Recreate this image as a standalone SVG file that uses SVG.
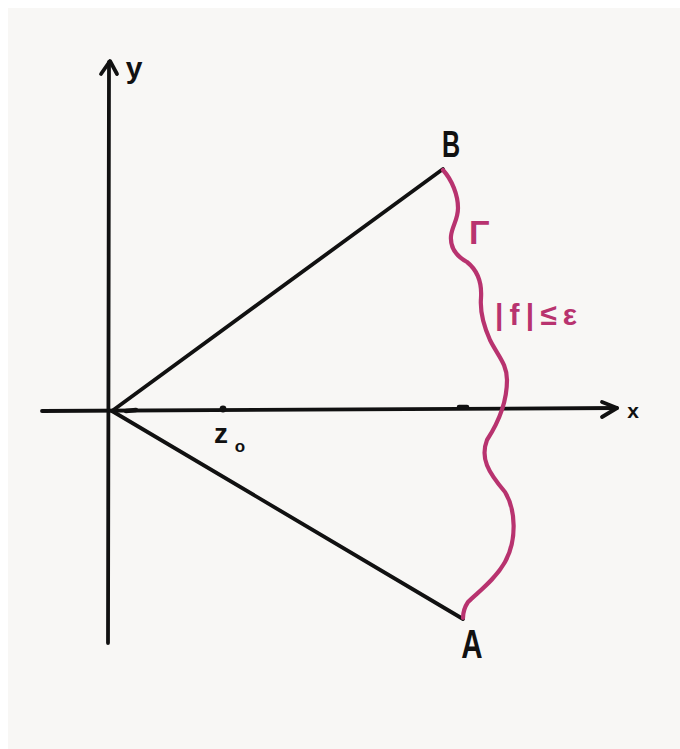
<svg xmlns="http://www.w3.org/2000/svg" width="680" height="749" viewBox="0 0 680 749">
<style>
.ink{fill:none;stroke:#111;stroke-width:3.8;stroke-linecap:round;stroke-linejoin:round}
.mag{fill:none;stroke:#b8336f;stroke-width:4.2;stroke-linecap:round;stroke-linejoin:round}
.lbl{font-family:"Liberation Sans","DejaVu Sans",sans-serif;fill:#111;font-weight:bold}
.mlbl{font-family:"Liberation Sans","DejaVu Sans",sans-serif;fill:#b8336f;font-weight:bold}
</style>
<rect x="0" y="0" width="680" height="749" fill="#ffffff"/>
<rect x="8" y="8" width="672" height="741" fill="#f8f7f5"/>
<g id="axes">
  <line class="ink" x1="42" y1="411" x2="617" y2="408"/>
  <path class="ink" d="M602,402 L617,408 L602,417"/>
  <line class="ink" x1="109" y1="62" x2="108" y2="643"/>
  <path class="ink" d="M101,74 L110,61 L117,74"/>
  <line x1="126" y1="411" x2="136" y2="410" stroke="#111" stroke-width="4.5" stroke-linecap="round"/>
  <line x1="459" y1="407" x2="467" y2="407" stroke="#111" stroke-width="4.5" stroke-linecap="round"/>
  <circle cx="223" cy="409" r="3.4" fill="#111"/>
</g>
<g id="connectors">
  <line class="ink" x1="112" y1="411" x2="443" y2="169"/>
  <line class="ink" x1="112" y1="411" x2="463" y2="619"/>
  <path class="mag" d="M443,170 C452,180 458,195 458,208 C458,220 452,226 451,236 C450,248 456,256 467,262 C477,270 482,283 481,298 C480,310 482,322 490,340 C498,356 507,364 507,380 C507,398 500,420 487,440 C480,458 488,472 505,492 C516,510 517,540 505,562 C495,580 478,592 468,602 C464,608 463,613 463,618"/>
</g>
<g id="label-y"><text class="lbl" x="134" y="78" font-size="30" text-anchor="middle">y</text></g>
<g id="label-x"><text class="lbl" x="633" y="418" font-size="21" text-anchor="middle">x</text></g>
<g id="node-B"><text class="lbl" transform="translate(451,157) scale(0.68,1)" font-size="37" text-anchor="middle">B</text></g>
<g id="node-A"><text class="lbl" transform="translate(472,658) scale(0.72,1)" font-size="41" text-anchor="middle">A</text></g>
<g id="node-z0">
  <text class="lbl" x="221" y="443" font-size="28" text-anchor="middle">z</text>
  <text class="lbl" x="240" y="452" font-size="17" text-anchor="middle">o</text>
</g>
<g id="label-gamma"><text class="mlbl" x="469" y="244" font-size="34">Γ</text></g>
<g id="label-bound"><text class="mlbl" x="495" y="325" font-size="30" textLength="82" lengthAdjust="spacing">|f|≤ε</text></g>
</svg>
